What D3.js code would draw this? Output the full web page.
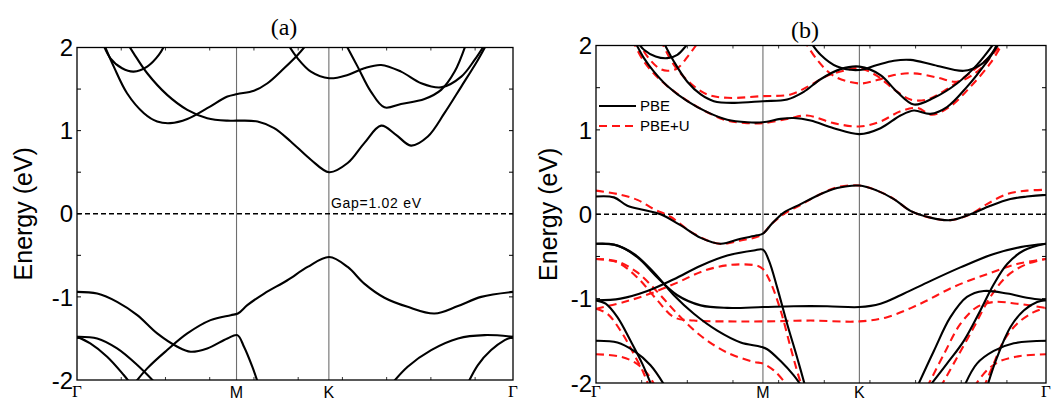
<!DOCTYPE html>
<html>
<head>
<meta charset="utf-8">
<script src="https://cdn.jsdelivr.net/npm/d3@7"></script>
<style>
  body { margin: 0; background: #fff; }
  svg { display: block; }
  text { font-family: "Liberation Sans", Arial, sans-serif; fill: #000; }
  .serif { font-family: "Liberation Serif", "Times New Roman", serif; }
</style>
</head>
<body>
<svg id="chart" width="1054" height="401"></svg>
<script>
// k-path positions of the high-symmetry points (one list per panel)
var kLabels = ["\u0393", "M", "K", "\u0393"];
var kTicksA = [0, 0.577, 0.911, 1.577];
var kTicksB = [0, 0.585, 0.923, 1.577];
var energyTicks = [-2, -1, 0, 1, 2];

// panel (a): band energies, [k, E(eV)]
var bandsA = [
  [[0.091,2.09],[0.133,1.77],[0.181,1.45],[0.242,1.21],[0.290,1.11],[0.338,1.09],[0.399,1.14],[0.471,1.27],[0.544,1.41],[0.580,1.44],[0.640,1.48],[0.689,1.57],[0.749,1.75],[0.798,1.91],[0.834,2.05]],
  [[0.175,2.09],[0.205,1.93],[0.254,1.69],[0.326,1.43],[0.399,1.25],[0.471,1.15],[0.544,1.12],[0.580,1.12],[0.653,1.11],[0.713,1.03],[0.773,0.87],[0.846,0.65],[0.912,0.50],[0.979,0.61],[1.039,0.85],[1.100,1.06],[1.154,0.95],[1.208,0.82],[1.269,0.93],[1.329,1.21],[1.390,1.53],[1.450,1.85],[1.480,2.03]],
  [[0.091,2.07],[0.121,1.87],[0.163,1.75],[0.205,1.71],[0.254,1.77],[0.296,1.91],[0.320,2.05]],
  [[0.761,2.05],[0.798,1.87],[0.846,1.71],[0.912,1.63],[0.979,1.67],[1.039,1.75],[1.100,1.79],[1.172,1.71],[1.245,1.57],[1.317,1.52],[1.390,1.65],[1.438,1.85],[1.474,2.03]],
  [[0.967,2.07],[1.015,1.77],[1.063,1.47],[1.112,1.28],[1.172,1.32],[1.257,1.38],[1.317,1.49],[1.366,1.71],[1.408,2.05]],
  [[0,-0.94],[0.073,-0.96],[0.145,-1.06],[0.218,-1.22],[0.290,-1.44],[0.363,-1.60],[0.411,-1.66],[0.471,-1.62],[0.544,-1.50],[0.580,-1.46],[0.604,-1.60],[0.634,-1.84],[0.659,-2.08]],
  [[0.199,-2.08],[0.254,-1.86],[0.326,-1.64],[0.399,-1.44],[0.483,-1.28],[0.556,-1.22],[0.582,-1.20],[0.616,-1.10],[0.677,-0.96],[0.761,-0.80],[0.834,-0.64],[0.912,-0.52],[0.979,-0.64],[1.039,-0.84],[1.112,-1.01],[1.196,-1.12],[1.293,-1.20],[1.378,-1.11],[1.462,-1.00],[1.577,-0.94]],
  [[0,-1.48],[0.073,-1.50],[0.145,-1.62],[0.218,-1.82],[0.296,-2.08]],
  [[0,-1.48],[0.048,-1.56],[0.109,-1.72],[0.169,-1.94],[0.193,-2.04]],
  [[1.130,-2.08],[1.196,-1.84],[1.281,-1.64],[1.378,-1.50],[1.474,-1.46],[1.577,-1.48]],
  [[1.408,-2.08],[1.450,-1.82],[1.498,-1.64],[1.547,-1.52],[1.577,-1.48]]
];

// panel (b): PBE bands
var bandsPBE = [
  [[0.139,2.07],[0.168,1.95],[0.209,1.87],[0.250,1.85],[0.285,1.89],[0.314,1.99],[0.332,2.07]],
  [[0.133,2.07],[0.168,1.85],[0.203,1.69],[0.250,1.52],[0.320,1.34],[0.390,1.21],[0.460,1.12],[0.530,1.09],[0.585,1.09],[0.647,1.13],[0.693,1.14],[0.752,1.11],[0.833,1.02],[0.923,0.95],[0.997,1.02],[1.067,1.17],[1.114,1.23],[1.172,1.19],[1.230,1.27],[1.300,1.51],[1.370,1.81],[1.417,2.05]],
  [[0.232,2.07],[0.273,1.81],[0.320,1.57],[0.367,1.42],[0.413,1.34],[0.483,1.32],[0.585,1.34],[0.670,1.36],[0.728,1.45],[0.787,1.60],[0.857,1.72],[0.923,1.75],[0.997,1.65],[1.055,1.45],[1.114,1.30],[1.184,1.38],[1.265,1.55],[1.335,1.77],[1.400,2.05]],
  [[0.746,2.07],[0.787,1.89],[0.845,1.75],[0.923,1.71],[0.985,1.77],[1.044,1.82],[1.102,1.83],[1.184,1.77],[1.289,1.70],[1.347,1.77],[1.388,1.91],[1.411,2.05]],
  [[0,0.21],[0.063,0.20],[0.110,0.10],[0.168,0.05],[0.226,0.00],[0.296,-0.13],[0.367,-0.28],[0.437,-0.35],[0.507,-0.29],[0.565,-0.25],[0.585,-0.23],[0.617,-0.11],[0.658,0.02],[0.717,0.12],[0.775,0.22],[0.845,0.31],[0.923,0.34],[0.985,0.28],[1.044,0.18],[1.102,0.04],[1.172,-0.04],[1.242,-0.07],[1.312,0.00],[1.382,0.10],[1.452,0.18],[1.510,0.21],[1.577,0.23]],
  [[0,-0.35],[0.075,-0.37],[0.145,-0.51],[0.215,-0.75],[0.285,-0.96],[0.367,-1.08],[0.460,-1.11],[0.585,-1.10],[0.693,-1.09],[0.810,-1.09],[0.923,-1.10],[0.997,-1.06],[1.067,-0.96],[1.160,-0.81],[1.277,-0.63],[1.394,-0.47],[1.487,-0.39],[1.577,-0.35]],
  [[0,-0.35],[0.063,-0.36],[0.133,-0.47],[0.203,-0.69],[0.273,-0.96],[0.343,-1.18],[0.425,-1.38],[0.507,-1.52],[0.577,-1.57],[0.600,-1.60],[0.647,-1.74],[0.693,-1.91],[0.723,-2.05]],
  [[0,-1.02],[0.086,-1.00],[0.180,-0.91],[0.273,-0.77],[0.367,-0.61],[0.460,-0.49],[0.553,-0.43],[0.585,-0.42],[0.606,-0.55],[0.635,-0.87],[0.670,-1.30],[0.705,-1.70],[0.734,-2.05]],
  [[0,-1.02],[0.034,-1.06],[0.075,-1.22],[0.121,-1.50],[0.162,-1.77],[0.197,-2.05]],
  [[0,-1.50],[0.075,-1.52],[0.133,-1.62],[0.191,-1.79],[0.244,-2.05]],
  [[1.125,-2.05],[1.184,-1.62],[1.242,-1.22],[1.300,-0.98],[1.359,-0.91],[1.441,-0.94],[1.510,-0.99],[1.577,-1.02]],
  [[1.166,-2.05],[1.230,-1.77],[1.289,-1.50],[1.347,-1.14],[1.394,-0.83],[1.441,-0.59],[1.499,-0.43],[1.577,-0.35]],
  [[1.289,-2.05],[1.335,-1.77],[1.394,-1.62],[1.464,-1.53],[1.577,-1.50]],
  [[1.370,-2.05],[1.405,-1.70],[1.452,-1.34],[1.499,-1.14],[1.546,-1.04],[1.577,-1.02]]
];

// panel (b): PBE+U bands
var bandsPBEU = [
  [[0.145,2.07],[0.180,1.87],[0.221,1.73],[0.250,1.70],[0.285,1.73],[0.326,1.89],[0.361,2.05]],
  [[0.127,2.07],[0.168,1.81],[0.226,1.59],[0.296,1.40],[0.378,1.23],[0.460,1.11],[0.530,1.08],[0.585,1.08],[0.670,1.13],[0.740,1.17],[0.833,1.08],[0.923,1.04],[0.997,1.10],[1.067,1.22],[1.125,1.26],[1.178,1.18],[1.242,1.28],[1.312,1.51],[1.382,1.79],[1.429,2.05]],
  [[0.226,2.07],[0.273,1.77],[0.332,1.55],[0.390,1.42],[0.460,1.38],[0.585,1.40],[0.682,1.42],[0.752,1.53],[0.810,1.64],[0.868,1.70],[0.923,1.73],[0.985,1.64],[1.044,1.48],[1.102,1.36],[1.160,1.36],[1.242,1.51],[1.324,1.71],[1.394,1.91],[1.429,2.05]],
  [[0.728,2.07],[0.775,1.83],[0.833,1.64],[0.923,1.55],[0.985,1.59],[1.044,1.65],[1.114,1.67],[1.195,1.62],[1.265,1.57],[1.324,1.66],[1.376,1.83],[1.411,2.05]],
  [[0,0.28],[0.075,0.24],[0.145,0.17],[0.203,0.06],[0.261,-0.03],[0.343,-0.23],[0.431,-0.35],[0.507,-0.31],[0.577,-0.25],[0.617,-0.11],[0.658,0.00],[0.717,0.11],[0.775,0.22],[0.845,0.32],[0.923,0.34],[0.985,0.28],[1.044,0.18],[1.102,0.04],[1.172,-0.04],[1.242,-0.07],[1.312,0.00],[1.370,0.12],[1.441,0.24],[1.510,0.28],[1.577,0.29]],
  [[0,-0.53],[0.075,-0.57],[0.145,-0.75],[0.215,-1.02],[0.273,-1.22],[0.343,-1.26],[0.460,-1.27],[0.585,-1.27],[0.752,-1.26],[0.923,-1.27],[1.020,-1.22],[1.137,-1.06],[1.254,-0.86],[1.370,-0.71],[1.475,-0.59],[1.577,-0.53]],
  [[0,-0.53],[0.075,-0.56],[0.145,-0.69],[0.215,-0.92],[0.285,-1.18],[0.367,-1.44],[0.460,-1.64],[0.553,-1.75],[0.585,-1.77],[0.623,-1.85],[0.664,-2.00],[0.682,-2.07]],
  [[0,-1.12],[0.098,-1.04],[0.191,-0.94],[0.285,-0.81],[0.378,-0.67],[0.472,-0.60],[0.565,-0.61],[0.585,-0.65],[0.612,-0.81],[0.647,-1.14],[0.682,-1.58],[0.711,-1.93],[0.723,-2.05]],
  [[0,-1.12],[0.040,-1.18],[0.086,-1.38],[0.133,-1.66],[0.168,-1.89],[0.186,-2.05]],
  [[0,-1.66],[0.075,-1.68],[0.133,-1.75],[0.180,-1.89],[0.209,-2.05]],
  [[1.160,-2.05],[1.219,-1.66],[1.277,-1.30],[1.335,-1.10],[1.394,-1.04],[1.475,-1.06],[1.577,-1.11]],
  [[1.207,-2.05],[1.265,-1.70],[1.324,-1.34],[1.382,-0.98],[1.441,-0.73],[1.510,-0.59],[1.577,-0.53]],
  [[1.324,-2.05],[1.370,-1.85],[1.417,-1.74],[1.487,-1.68],[1.577,-1.66]],
  [[1.359,-2.05],[1.394,-1.77],[1.429,-1.50],[1.475,-1.30],[1.534,-1.16],[1.577,-1.11]]
];

var svg = d3.select("#chart");

function drawPanel(opts) {
  var x = d3.scaleLinear().domain([0, 1.577]).range([opts.left, opts.right]);
  var y = d3.scaleLinear().domain([-2, 2]).range([opts.bottom, opts.top]);
  var g = svg.append("g");

  g.append("clipPath").attr("id", opts.id + "-clip")
    .append("rect")
    .attr("x", opts.left).attr("y", opts.top)
    .attr("width", opts.right - opts.left).attr("height", opts.bottom - opts.top);

  // high-symmetry verticals
  g.selectAll(".kline").data(opts.kTicks.slice(1, 3)).enter().append("line")
    .attr("x1", function(d) { return x(d); }).attr("x2", function(d) { return x(d); })
    .attr("y1", opts.top).attr("y2", opts.bottom)
    .attr("stroke", "#6e6e6e").attr("stroke-width", 1.1);

  // Fermi level
  g.append("line")
    .attr("x1", opts.left).attr("x2", opts.right)
    .attr("y1", y(0)).attr("y2", y(0))
    .attr("stroke", "#000").attr("stroke-width", 1.6)
    .attr("stroke-dasharray", "5,3");

  var line = d3.line()
    .x(function(d) { return x(d[0]); })
    .y(function(d) { return y(d[1]); })
    .curve(d3.curveCatmullRom.alpha(0.5));

  var bands = g.append("g").attr("clip-path", "url(#" + opts.id + "-clip)");
  opts.series.forEach(function(s) {
    bands.selectAll(null).data(s.bands).enter().append("path")
      .attr("d", line)
      .attr("fill", "none")
      .attr("stroke", s.color)
      .attr("stroke-width", 2.1)
      .attr("stroke-dasharray", s.dash || null);
  });

  // frame
  g.append("rect")
    .attr("x", opts.left).attr("y", opts.top)
    .attr("width", opts.right - opts.left).attr("height", opts.bottom - opts.top)
    .attr("fill", "none").attr("stroke", "#000").attr("stroke-width", 1.3);

  // inward ticks on both sides, every 0.5 eV
  var yMinor = d3.range(-1.5, 2, 0.5);
  [opts.left, opts.right].forEach(function(xx, side) {
    g.selectAll(null).data(yMinor).enter().append("line")
      .attr("x1", xx).attr("x2", side ? xx - 4 : xx + 4)
      .attr("y1", function(d) { return y(d); }).attr("y2", function(d) { return y(d); })
      .attr("stroke", "#000").attr("stroke-width", 1);
  });
  var xMinor = d3.range(0.16, 1.577, 0.16);
  [opts.top, opts.bottom].forEach(function(yy, side) {
    g.selectAll(null).data(xMinor).enter().append("line")
      .attr("x1", function(d) { return x(d); }).attr("x2", function(d) { return x(d); })
      .attr("y1", yy).attr("y2", side ? yy - 3 : yy + 3)
      .attr("stroke", "#000").attr("stroke-width", 0.8);
  });

  // y tick labels
  g.selectAll(null).data(energyTicks).enter().append("text")
    .attr("x", opts.left - 4)
    .attr("y", function(d) { return y(d); })
    .attr("dy", "0.36em")
    .attr("text-anchor", "end")
    .attr("font-size", 24)
    .text(function(d) { return d; });

  // k labels
  g.selectAll(null).data(opts.kTicks).enter().append("text")
    .attr("class", function(d, i) { return kLabels[i] === "\u0393" ? "serif" : null; })
    .attr("x", function(d) { return x(d); })
    .attr("y", function(d, i) { return kLabels[i] === "\u0393" ? 397 : 398; })
    .attr("text-anchor", "middle")
    .attr("font-size", function(d, i) { return kLabels[i] === "\u0393" ? 17 : 16; })
    .text(function(d, i) { return kLabels[i]; });

  g.append("text")
    .attr("transform", "translate(" + opts.ylabelX + "," + (opts.top + opts.bottom) / 2 + ") rotate(-90)")
    .attr("text-anchor", "middle")
    .attr("dy", "0.36em")
    .attr("font-size", 25)
    .text("Energy (eV)");

  g.append("text").attr("class", "serif")
    .attr("x", opts.titleX).attr("y", opts.titleY)
    .attr("text-anchor", "middle")
    .attr("font-size", 24)
    .text(opts.title);

  return { x: x, y: y, g: g };
}

var pa = drawPanel({
  id: "pa", left: 77, right: 513, top: 47.5, bottom: 380,
  kTicks: kTicksA, ylabelX: 23, titleX: 284, titleY: 35, title: "(a)",
  series: [{ bands: bandsA, color: "#000" }]
});

pa.g.append("text")
  .attr("x", 331).attr("y", 208)
  .attr("font-size", 14)
  .attr("textLength", 90)
  .text("Gap=1.02 eV");

var pb = drawPanel({
  id: "pb", left: 596, right: 1046, top: 45.5, bottom: 383,
  kTicks: kTicksB, ylabelX: 548, titleX: 805, titleY: 38, title: "(b)",
  series: [
    { bands: bandsPBEU, color: "#ff1414", dash: "8,5" },
    { bands: bandsPBE, color: "#000" }
  ]
});

// legend
var legend = [
  { name: "PBE", color: "#000", dash: null },
  { name: "PBE+U", color: "#ff1414", dash: "8,5" }
];
var lg = pb.g.append("g").attr("transform", "translate(599,106)");
legend.forEach(function(d, i) {
  lg.append("line")
    .attr("x1", 0).attr("x2", 37).attr("y1", i * 20).attr("y2", i * 20)
    .attr("stroke", d.color).attr("stroke-width", 2.1)
    .attr("stroke-dasharray", d.dash);
  lg.append("text")
    .attr("x", 41).attr("y", i * 20).attr("dy", "0.36em")
    .attr("font-size", 15)
    .text(d.name);
});
</script>
</body>
</html>
